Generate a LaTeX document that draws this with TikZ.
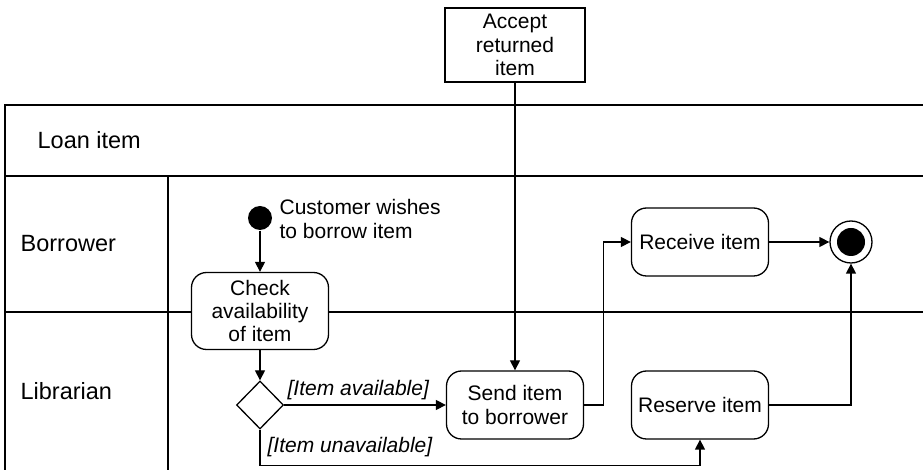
\documentclass[tikz,border=0pt]{standalone}
\usepackage{fontspec}
\setmainfont{Liberation Sans}
\usetikzlibrary{positioning,arrows.meta,shapes.geometric}

\begin{document}
\begin{tikzpicture}[
    x=0.5pt, y=-0.5pt,
    line width=0.65pt,
    action/.style={draw, rounded corners=7.5pt, fill=white, minimum width=68.5pt, minimum height=34pt, align=center, inner sep=1pt, font=\fontsize{10.5}{11.7}\selectfont},
    task/.style={draw, fill=white, minimum width=70pt, minimum height=37pt, align=center, inner sep=1pt, font=\fontsize{10.5}{11.7}\selectfont},
    lane/.style={anchor=west, inner sep=0pt, font=\fontsize{11.75}{14}\selectfont},
    note/.style={anchor=west, inner sep=0pt, align=left, font=\fontsize{10.5}{11.7}\selectfont},
    guard/.style={anchor=base west, inner sep=0pt, font=\fontsize{10.5}{11.7}\selectfont\itshape},
    choice/.style={draw, diamond, fill=white, minimum width=23.5pt, minimum height=24pt, inner sep=0pt},
    initial/.style={circle, fill, minimum size=12pt, inner sep=0pt},
    final/.style={circle, draw, fill=white, minimum size=21pt, inner sep=0pt},
    arrow/.style={-{Triangle[length=5pt, width=5pt]}}
]
\useasboundingbox (0,0) rectangle (923,470);

% swimlanes
\draw (923,105) -- (5,105) -- (5,470);
\draw (5,176) -- (923,176);
\draw (5,312) -- (923,312);
\draw (168,176) -- (168,470);
\node[lane] (loan) at (37,140) {Loan item};
\node[lane] (borrower) at (20,244) {Borrower};
\node[lane] (librarian) at (20,391) {Librarian};

% activities
\node[task] (accept) at (515,45) {Accept\\returned\\item};
\node[initial] (start) at (260,218) {};
\node[note] (wish) at (279,219) {Customer wishes\\to borrow item};
\node[action, minimum height=38.5pt] (check) at (260,311) {Check\\availability\\of item};
\node[choice] (avail) at (260,405) {};
\node[action] (send) at (515,405) {Send item\\to borrower};
\node[action] (receive) at (700,242) {Receive item};
\node[action] (reserve) at (700,405) {Reserve item};
\node[final] (end) at (851,242) {};
\fill (end.center) circle (7pt);

% guards
\node[guard] (yes) at (287,396) {[Item available]};
\node[guard] (no) at (267,453) {[Item unavailable]};

% flows
\draw[arrow] (start) -- (check);
\draw[arrow] (check) -- (avail);
\draw[arrow] (avail.east) -- (send.west);
\draw[arrow] (avail.south) -- ++(0,36) -| (reserve.south);
\draw[arrow] (accept) -- (send);
\draw[arrow] (send.east) -- ++(19,0) |- (receive.west);
\draw[arrow] (receive) -- (end);
\draw[arrow] (reserve.east) -| (end.south);
\end{tikzpicture}
\end{document}
